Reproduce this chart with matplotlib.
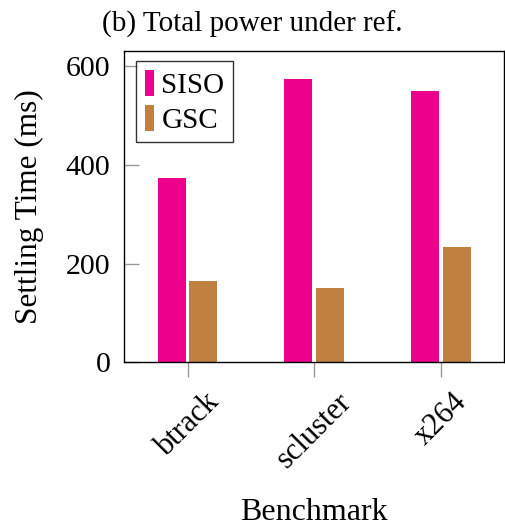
import matplotlib
matplotlib.use("Agg")
import matplotlib.pyplot as plt
import numpy as np

plt.rcParams['font.family'] = ['Liberation Serif', 'DejaVu Serif']

# Settling time per benchmark (ms)
benchmarks = ['btrack', 'scluster', 'x264']
siso = [373, 573, 550]
gsc = [164, 150, 233]

siso_color = '#EC008C'
gsc_color = '#BF8040'

fig = plt.figure(figsize=(5.05, 5.29), dpi=100)
ax = fig.add_axes([0.246, 0.315, 0.7526, 0.5886])

x = np.arange(len(benchmarks))
w = 0.22
ax.bar(x - 0.125, siso, w, color=siso_color, label='SISO')
ax.bar(x + 0.125, gsc, w, color=gsc_color, label='GSC')

ax.set_xlim(-0.5, 2.5)
ax.set_ylim(0, 630)
ax.set_yticks([0, 200, 400, 600])
ax.set_xticks(x)
ax.set_xticklabels(benchmarks, rotation=45, ha='center', va='top')

ax.tick_params(axis='y', direction='in', length=11, width=1, color='#999999',
               labelsize=21.5, pad=10)
ax.tick_params(axis='x', direction='out', length=11, width=1, color='#999999',
               labelsize=22, pad=7)
for s in ax.spines.values():
    s.set_linewidth(1.0)

ax.set_ylabel('Settling Time (ms)', fontsize=22.5)
ax.yaxis.set_label_coords(-0.211, 0.5)
ax.set_xlabel('Benchmark', fontsize=23)
ax.xaxis.set_label_coords(0.5, -0.437)
fig.text(0.5, 1 - 32 / 529, '(b) Total power under ref.', fontsize=21,
         ha='center', va='baseline')

leg = ax.legend(loc='upper left', fontsize=21, handlelength=0.31, handleheight=1.0,
                handletextpad=0.25, borderpad=0.3, labelspacing=0.2,
                borderaxespad=0, frameon=True, fancybox=False, edgecolor='black',
                bbox_to_anchor=(0.0316, 0.968))
leg.get_frame().set_linewidth(1.0)

fig.savefig('out.png', dpi=100)
